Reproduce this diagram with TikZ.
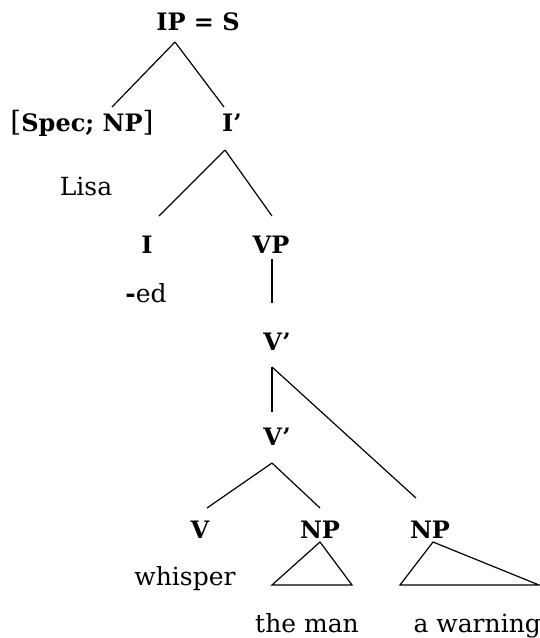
\documentclass[tikz,border=0pt]{standalone}
\usepackage{fontspec}
\setmainfont{DejaVu Serif}
\usetikzlibrary{calc}

\begin{document}
\begin{tikzpicture}[x=1pt,y=-1pt,line width=1.2pt]%
            \useasboundingbox (0,0) rectangle (539,638); %%
            \begin{scope}[anchor=base,inner sep=0pt]%
            \tikzstyle{every node}=[font=\fontsize{24}{28}\selectfont\bfseries] %%
            \tikzstyle{word}=[font=\fontsize{25}{30}\selectfont] %%
            \node (ip) at (198,30)  {IP = S}; %%
            \node (spec) at (82,131)  {{\mdseries\fontsize{28}{30}\selectfont[}Spec; NP{\mdseries\fontsize{28}{30}\selectfont]}}; %%
            \node (ibar) at (232,131)  {I’}; %%
            \node[word] (lisa) at (86,195)  {Lisa}; %%
            \node (i) at (147,253)  {I}; %%
            \node (vp) at (271,253)  {VP}; %%
            \node[word] (ed) at (146,302)  {\textbf{-}ed}; %%
            \node (vbar) at (277,350)  {V’}; %%
            \node (vbarl) at (277,445)  {V’}; %%
            \node (v) at (200,538)  {V}; %%
            \node (np1) at (320,538)  {NP}; %%
            \node (np2) at (430,538)  {NP}; %%
            \node[word] (whisper) at (185,585)  {whisper}; %%
            \node[word] (man) at (307,632)  {the man}; %%
            \node[word,anchor=base west] (warn) at (413,632)  {a warning}; %%
            \end{scope}
            \draw ($(ip.base)+(-23,12)$)--($(spec.base)+(30,-24)$); %%
            \draw ($(ip.base)+(-23,12)$)--($(ibar.base)+(-8,-24)$); %%
            \draw ($(ibar.base)+(-7,19)$)--($(i.base)+(12,-37)$); %%
            \draw ($(ibar.base)+(-7,19)$)--($(vp.base)+(1,-37)$); %%
            \draw ($(vp.base)+(1,6)$)--($(vbar.base)+(-5,-47)$); %%
            \draw ($(vbar.base)+(-5,17)$)--($(vbarl.base)+(-5,-33)$); %%
            \draw ($(vbar.base)+(-5,17)$)--($(np2.base)+(-14,-40)$); %%
            \draw ($(vbarl.base)+(-5,18)$)--($(v.base)+(7,-30)$); %%
            \draw ($(vbarl.base)+(-5,18)$)--($(np1.base)+(0,-30)$); %%
            \draw ($(np1.base)+(0,4)$)--++(-48,43)--++(80,0)--cycle; %%
            \draw ($(np2.base)+(3,4)$)--++(-33,43)--++(139,0)--cycle; %%
        \end{tikzpicture}
\end{document}
